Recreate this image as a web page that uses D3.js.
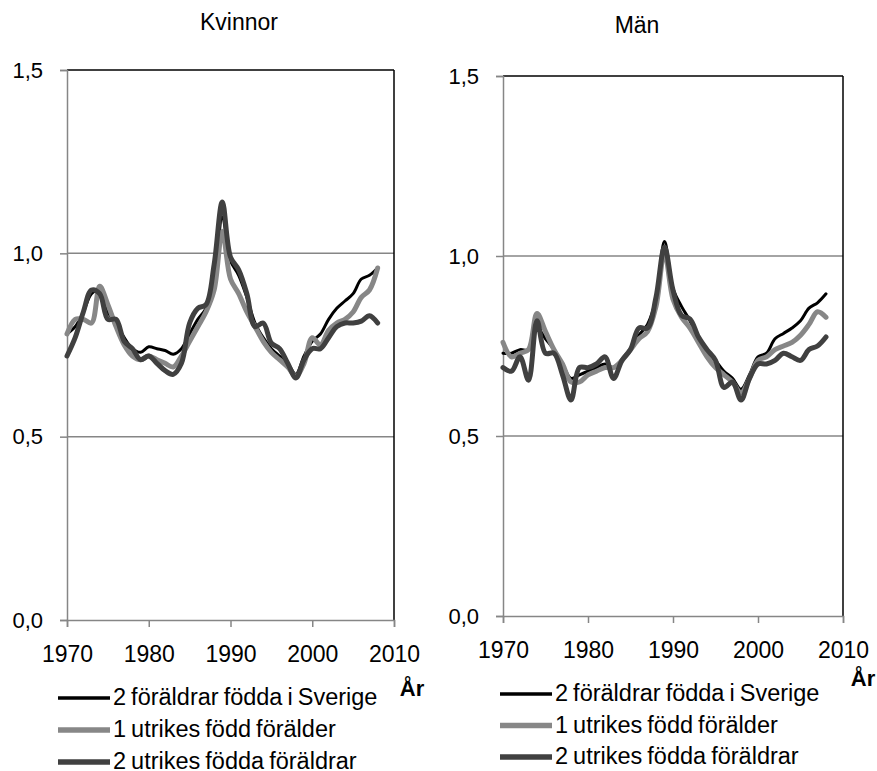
<!DOCTYPE html>
<html>
<head>
<meta charset="utf-8">
<script src="https://cdn.jsdelivr.net/npm/d3@7"></script>
<style>
  body { margin: 0; background: #fff; }
  text { font-family: "Liberation Sans", Arial, sans-serif; fill: #000; }
</style>
</head>
<body>
<div id="chart"></div>
<script>
var w = 877,
    h = 771;

// data
var years = d3.range(1970, 2009);

var kvinnorSverige = [0.78, 0.80, 0.84, 0.89, 0.90, 0.84, 0.81, 0.77, 0.74, 0.73,
  0.745, 0.74, 0.735, 0.725, 0.74, 0.78, 0.82, 0.85, 0.92, 1.10,
  0.98, 0.94, 0.88, 0.81, 0.77, 0.74, 0.72, 0.70, 0.67, 0.72,
  0.76, 0.78, 0.82, 0.85, 0.87, 0.89, 0.93, 0.94, 0.96];
var kvinnorEnUtrikes = [0.78, 0.82, 0.82, 0.81, 0.91, 0.86, 0.80, 0.75, 0.72, 0.71,
  0.72, 0.71, 0.70, 0.69, 0.72, 0.76, 0.80, 0.84, 0.90, 1.06,
  0.93, 0.89, 0.84, 0.80, 0.76, 0.73, 0.71, 0.69, 0.665, 0.70,
  0.77, 0.75, 0.79, 0.81, 0.82, 0.84, 0.88, 0.90, 0.96];
var kvinnorTvaUtrikes = [0.72, 0.77, 0.84, 0.90, 0.89, 0.82, 0.82, 0.76, 0.74, 0.71,
  0.72, 0.70, 0.68, 0.67, 0.70, 0.81, 0.85, 0.86, 0.97, 1.14,
  0.99, 0.955, 0.89, 0.80, 0.81, 0.755, 0.74, 0.70, 0.66, 0.71,
  0.74, 0.74, 0.77, 0.80, 0.81, 0.81, 0.815, 0.83, 0.81];

var manSverige = [0.73, 0.73, 0.74, 0.74, 0.80, 0.77, 0.74, 0.70, 0.66, 0.67,
  0.68, 0.69, 0.70, 0.69, 0.71, 0.74, 0.78, 0.81, 0.88, 1.04,
  0.91, 0.86, 0.82, 0.77, 0.74, 0.71, 0.68, 0.66, 0.63, 0.67,
  0.72, 0.73, 0.77, 0.785, 0.80, 0.82, 0.855, 0.87, 0.895];
var manEnUtrikes = [0.76, 0.72, 0.73, 0.74, 0.84, 0.79, 0.74, 0.70, 0.65, 0.65,
  0.67, 0.68, 0.69, 0.69, 0.71, 0.74, 0.77, 0.79, 0.86, 1.01,
  0.88, 0.83, 0.80, 0.76, 0.72, 0.69, 0.67, 0.65, 0.62, 0.66,
  0.71, 0.72, 0.74, 0.75, 0.76, 0.78, 0.81, 0.845, 0.83];
var manTvaUtrikes = [0.69, 0.68, 0.72, 0.655, 0.82, 0.73, 0.73, 0.67, 0.60, 0.69,
  0.69, 0.70, 0.72, 0.66, 0.71, 0.74, 0.80, 0.80, 0.885, 1.025,
  0.905, 0.835, 0.825, 0.775, 0.74, 0.71, 0.635, 0.65, 0.60, 0.66,
  0.70, 0.70, 0.71, 0.73, 0.72, 0.71, 0.74, 0.75, 0.775];

var seriesNames = ['2 föräldrar födda i Sverige', '1 utrikes född förälder', '2 utrikes födda föräldrar'];
var panelTitles = ['Kvinnor', 'Män'];
var xTicks = [1970, 1980, 1990, 2000, 2010];
var yTicks = [0, 0.5, 1.0, 1.5];

// styles per series
var seriesColor = ['#000000', '#878787', '#404040'];
var seriesWidth = [3, 5, 5];

var panels = [
  {title: panelTitles[0], data: [kvinnorSverige, kvinnorEnUtrikes, kvinnorTvaUtrikes],
   x0: 67, x1: 394, y0: 70, y1: 620, titleX: 239, titleY: 30,
   legX: 58, legY: 698, legStep: 32, arX: 412, arY: 696},
  {title: panelTitles[1], data: [manSverige, manEnUtrikes, manTvaUtrikes],
   x0: 503, x1: 843, y0: 76, y1: 616, titleX: 637, titleY: 33,
   legX: 500, legY: 694, legStep: 31.5, arX: 863, arY: 686}
];

var svg = d3.select('#chart').append('svg').attr('width', w).attr('height', h);

var fmt = function (v) { return d3.format('.1f')(v).replace('.', ','); };

panels.forEach(function (p) {
  var x = d3.scaleLinear().domain([1970, 2010]).range([p.x0, p.x1]);
  var y = d3.scaleLinear().domain([0, 1.5]).range([p.y1, p.y0]);
  var g = svg.append('g');

  // gridlines
  g.selectAll('line.grid')
    .data(yTicks.filter(function (t) { return t > 0; }))
    .enter()
    .append('line')
    .attr('x1', p.x0).attr('x2', p.x1)
    .attr('y1', function (t) { return y(t); })
    .attr('y2', function (t) { return y(t); })
    .attr('stroke', function (t) { return t === 1.5 ? '#000' : '#868686'; })
    .attr('stroke-width', 1.5);

  // right border
  g.append('line')
    .attr('x1', p.x1).attr('x2', p.x1)
    .attr('y1', p.y0).attr('y2', p.y1)
    .attr('stroke', '#000').attr('stroke-width', 1.5);

  // axes
  var yAxis = g.append('g')
    .attr('transform', 'translate(' + p.x0 + ',0)')
    .call(d3.axisLeft(y).tickValues(yTicks).tickFormat(fmt).tickSize(7).tickPadding(17));
  var xAxis = g.append('g')
    .attr('transform', 'translate(0,' + p.y1 + ')')
    .call(d3.axisBottom(x).tickValues(xTicks).tickFormat(d3.format('d')).tickSize(7).tickPadding(19));

  [yAxis, xAxis].forEach(function (a) {
    a.select('.domain').attr('stroke', '#868686').attr('stroke-width', 1.5);
    a.selectAll('.tick line').attr('stroke', '#868686').attr('stroke-width', 1.5);
    a.selectAll('.tick text').attr('fill', '#000');
  });
  yAxis.selectAll('.tick text').style('font-size', '22px');
  xAxis.selectAll('.tick text').style('font-size', '23px');

  // lines
  var line = d3.line()
    .x(function (d, i) { return x(years[i]); })
    .y(function (d) { return y(d); })
    .curve(d3.curveCatmullRom.alpha(0.5));

  p.data.forEach(function (s, k) {
    g.append('path')
      .datum(s)
      .attr('d', line)
      .attr('fill', 'none')
      .attr('stroke', seriesColor[k])
      .attr('stroke-width', seriesWidth[k])
      .attr('stroke-linejoin', 'round')
      .attr('stroke-linecap', 'round');
  });

  // title
  g.append('text')
    .attr('x', p.titleX).attr('y', p.titleY)
    .attr('text-anchor', 'middle')
    .style('font-size', '23px')
    .text(p.title);

  // axis name
  g.append('text')
    .attr('x', p.arX).attr('y', p.arY)
    .attr('text-anchor', 'middle')
    .style('font-size', '22px')
    .style('font-weight', 'bold')
    .text('År');

  // legend
  seriesNames.forEach(function (name, k) {
    var ly = p.legY + k * p.legStep;
    g.append('line')
      .attr('x1', p.legX).attr('x2', p.legX + 52)
      .attr('y1', ly).attr('y2', ly)
      .attr('stroke', seriesColor[k])
      .attr('stroke-width', seriesWidth[k] + 0.5);
    g.append('text')
      .attr('x', p.legX + 55).attr('y', ly + 7)
      .style('font-size', '23.5px')
      .style('word-spacing', '-1.5px')
      .text(name);
  });
});
</script>
</body>
</html>
